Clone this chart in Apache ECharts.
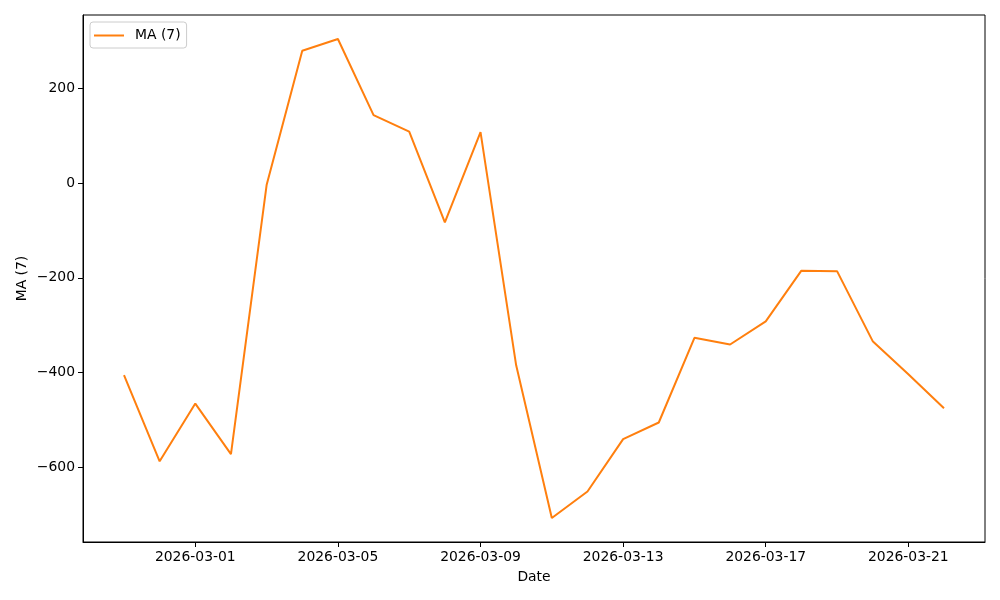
<!DOCTYPE html>
<html>
<head>
<meta charset="utf-8">
<script src="https://cdn.jsdelivr.net/npm/echarts@6/dist/echarts.min.js"></script>
<style>html,body{margin:0;padding:0;background:#fff}#c{width:1000px;height:600px}</style>
</head>
<body>
<div id="c"></div>
<script>
var dates = ['2026-02-27','2026-02-28','2026-03-01','2026-03-02','2026-03-03','2026-03-04','2026-03-05','2026-03-06','2026-03-07','2026-03-08','2026-03-09','2026-03-10','2026-03-11','2026-03-12','2026-03-13','2026-03-14','2026-03-15','2026-03-16','2026-03-17','2026-03-18','2026-03-19','2026-03-20','2026-03-21','2026-03-22'];
var maValues = [-406,-588,-466,-573,-4,280,305,144,109,-83,108,-385,-708,-652,-541,-506,-327,-341,-292,-185,-186,-334,-404,-476];
var xTickLabels = ['2026-03-01','2026-03-05','2026-03-09','2026-03-13','2026-03-17','2026-03-21'];
var yTicks = [-600,-400,-200,0,200];

var DAY = 86400000;
var base = Date.parse('2026-03-01T00:00:00Z');
function dayOf(s){ return (Date.parse(s + 'T00:00:00Z') - base) / DAY; }
function fmtDay(v){
  var d = new Date(base + Math.round(v) * DAY);
  var m = d.getUTCMonth() + 1, dd = d.getUTCDate();
  return d.getUTCFullYear() + '-' + (m < 10 ? '0' : '') + m + '-' + (dd < 10 ? '0' : '') + dd;
}
var seriesData = dates.map(function(d, i){ return [dayOf(d), maValues[i]]; });
var xTicks = xTickLabels.map(dayOf);
var xMin = seriesData[0][0], xMax = seriesData[seriesData.length-1][0];
var xPad = (xMax - xMin) * 0.05;
var yMin = Math.min.apply(null, maValues), yMax = Math.max.apply(null, maValues);
var yPad = (yMax - yMin) * 0.05;

var font = 'DejaVu Sans';
var chart = echarts.init(document.getElementById('c'), null, {renderer: 'canvas'});
chart.setOption({
  animation: false,
  backgroundColor: '#ffffff',
  grid: {left: 83, right: 15, top: 15, bottom: 58, show: true, borderColor: '#000', borderWidth: 1, backgroundColor: 'transparent'},
  legend: {
    left: 90, top: 22,
    padding: [6, 6, 5, 4],
    borderColor: '#cccccc', borderWidth: 1, borderRadius: 3,
    backgroundColor: 'rgba(255,255,255,0.8)',
    itemWidth: 30, itemHeight: 2, icon: 'rect',
    textStyle: {fontFamily: font, fontSize: 13.9, color: '#000', padding: [0,0,0,6], lineHeight: 15},
    data: ['MA (7)']
  },
  xAxis: {
    type: 'value', min: xMin - xPad, max: xMax + xPad,
    name: 'Date', nameLocation: 'middle', nameGap: 28, nameMoveOverlap: false,
    nameTextStyle: {fontFamily: font, fontSize: 13.9, color: '#000'},
    axisLine: {show: true, onZero: false, lineStyle: {color: '#000', width: 1}},
    splitLine: {show: false},
    axisTick: {show: true, length: 5, customValues: xTicks, lineStyle: {color: '#000'}},
    axisLabel: {customValues: xTicks, formatter: function(v){ return fmtDay(v); }, fontFamily: font, fontSize: 13.9, color: '#000', margin: 8}
  },
  yAxis: {
    type: 'value', min: yMin - yPad, max: yMax + yPad,
    name: 'MA (7)', nameLocation: 'middle', nameGap: 54, nameRotate: 90, nameMoveOverlap: false,
    nameTextStyle: {fontFamily: font, fontSize: 13.9, color: '#000'},
    axisLine: {show: true, onZero: false, lineStyle: {color: '#000', width: 1}},
    splitLine: {show: false},
    axisTick: {show: true, length: 5, customValues: yTicks, lineStyle: {color: '#000'}},
    axisLabel: {customValues: yTicks, formatter: function(v){ return String(v).replace('-', '\u2212'); }, fontFamily: font, fontSize: 13.9, color: '#000', margin: 8}
  },
  series: [{
    name: 'MA (7)', type: 'line', data: seriesData,
    symbol: 'none', showSymbol: false,
    lineStyle: {color: '#ff7f0e', width: 2},
    itemStyle: {color: '#ff7f0e'}
  }]
});
</script>
</body>
</html>
